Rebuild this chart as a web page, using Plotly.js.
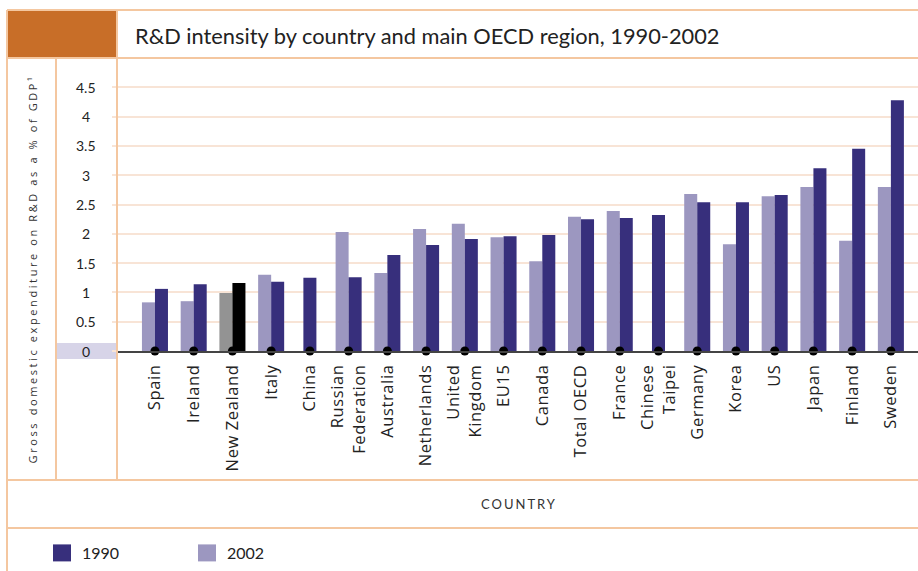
<!DOCTYPE html>
<html>
<head>
<meta charset="utf-8">
<script src="https://cdn.plot.ly/plotly-3.0.1.min.js"></script>
<style>
  html, body { margin: 0; padding: 0; background: #fff; }
  #chart { width: 918px; height: 571px; }
  .annotation.ytitle text { letter-spacing: 2.6px; }
  .annotation.xtitle text { letter-spacing: 2px; }
  .xtick text { letter-spacing: 0.6px; }
</style>
</head>
<body>
<div id="chart"></div>
<script>
// ---- data ----
const countries = ["Spain", "Ireland", "New Zealand", "Italy", "China", "Russian<br>Federation",
  "Australia", "Netherlands", "United<br>Kingdom", "EU15", "Canada", "Total OECD", "France",
  "Chinese<br>Taipei", "Germany", "Korea", "US", "Japan", "Finland", "Sweden"];
const values1990 = [1.06, 1.14, 1.16, 1.18, 1.25, 1.26, 1.64, 1.81, 1.91, 1.96, 1.98, 2.25, 2.27,
  2.32, 2.54, 2.54, 2.66, 3.12, 3.45, 4.28];
const values2002 = [0.83, 0.85, 0.99, 1.30, null, 2.03, 1.33, 2.08, 2.17, 1.94, 1.53, 2.29, 2.39,
  null, 2.68, 1.82, 2.64, 2.80, 1.88, 2.80];
const yTickValues = [0, 0.5, 1, 1.5, 2, 2.5, 3, 3.5, 4, 4.5];
const yTickLabels = ["0", "0.5", "1", "1.5", "2", "2.5", "3", "3.5", "4", "4.5"];
const highlight = "New Zealand";
const titleText = "R&D intensity by country and main OECD region, 1990-2002";
const yTitleText = "Gross domestic expenditure on R&D as a % of GDP\u00b9";
const xTitleText = "COUNTRY";

// ---- layout geometry (pixels of the 918x571 page) ----
const W = 918, H = 571;
const L = 117, R = 0, T = 58, B = 220;
const plotW = W - L - R, plotH = H - T - B;
const px = x => (x - L) / plotW;          // page x -> paper x
const py = y => (H - B - y) / plotH;      // page y -> paper y

const darkC = "#372f7c", lightC = "#9c97c0", hiLight = "#939393", hiDark = "#000000";
const border = "#f4c7a0", grid = "#f8e4d6";
const barW = 0.336;
const hiIdx = countries.indexOf(highlight);

const lightColors = countries.map((c, i) => i === hiIdx ? hiLight : lightC);
const darkColors = countries.map((c, i) => i === hiIdx ? hiDark : darkC);
const darkOffsets = values2002.map(v => v === null ? -barW / 2 : 0);

const traces = [
  { type: "bar", name: "2002", x: countries, y: values2002,
    marker: { color: lightColors, line: { width: 0 } },
    width: barW, offset: -barW, legendrank: 2, hoverinfo: "x+y" },
  { type: "bar", name: "1990", x: countries, y: values1990,
    marker: { color: darkColors, line: { width: 0 } },
    width: barW, offset: darkOffsets, legendrank: 1, hoverinfo: "x+y" },
  { type: "scatter", mode: "markers", x: countries, y: countries.map(() => 0),
    marker: { color: "#000", size: 9 }, cliponaxis: false, showlegend: false, hoverinfo: "skip" }
];

const line = (x0, y0, x1, y1) => ({ type: "line", xref: "paper", yref: "paper",
  x0: px(x0), y0: py(y0), x1: px(x1), y1: py(y1), line: { color: border, width: 2 }, layer: "above" });

const shapes = [
  { type: "rect", xref: "paper", yref: "paper", x0: px(7), x1: px(117), y0: py(10), y1: py(58),
    fillcolor: "#c86e28", line: { width: 0 }, layer: "below" },
  { type: "rect", xref: "paper", yref: "paper", x0: px(57), x1: px(117), y0: py(343), y1: py(359),
    fillcolor: "#d7d4e8", line: { width: 0 }, layer: "below" },
  line(7, 10, 918, 10),
  line(7, 58, 918, 58),
  line(7, 480, 918, 480),
  line(7, 528, 918, 528),
  line(7, 10, 7, 571),
  line(56, 58, 56, 480),
  line(117, 10, 117, 480)
];

const annotations = yTickValues.map((v, i) => ({
  xref: "paper", yref: "y", x: px(86), y: v, text: yTickLabels[i], showarrow: false,
  xanchor: "center", yanchor: "middle", font: { family: "Lato, sans-serif", size: 14, color: "#222" }
}));
annotations.push({ xref: "paper", yref: "paper", x: px(32), y: py(269), text: yTitleText,
  textangle: -90, showarrow: false, xanchor: "center", yanchor: "middle",
  font: { family: "Open Sans, sans-serif", size: 11, color: "#333" } });
annotations.push({ xref: "paper", yref: "paper", x: px(519), y: py(504), text: xTitleText,
  showarrow: false, xanchor: "center", yanchor: "middle",
  font: { family: "Liberation Sans Narrow, Lato, sans-serif", size: 13, color: "#333" } });

const layout = {
  width: W, height: H,
  margin: { l: L, r: R, t: T, b: B, pad: 0 },
  paper_bgcolor: "#fff", plot_bgcolor: "#fff",
  barmode: "overlay",
  title: { text: titleText, xref: "paper", x: px(135), xanchor: "left",
    yref: "container", y: 1 - 36 / H, yanchor: "middle",
    font: { family: "Lato, sans-serif", size: 21.8, color: "#222" } },
  xaxis: { range: [-0.98, 19.7], tickangle: -90, showgrid: false, zeroline: false,
    showline: true, linecolor: "#444", linewidth: 2,
    ticks: "outside", ticklen: 5, tickcolor: "rgba(0,0,0,0)",
    tickfont: { family: "'Open Sans', sans-serif", size: 16.5, color: "#222" }, fixedrange: true },
  yaxis: { range: [0, 5.0], tickvals: yTickValues, showticklabels: false, showgrid: true,
    gridcolor: grid, gridwidth: 2, zeroline: false, showline: false,
    ticks: "outside", ticklen: 4, tickwidth: 2, tickcolor: grid, fixedrange: true },
  legend: { orientation: "h", x: px(42), xanchor: "left", y: py(553), yanchor: "middle",
    entrywidth: 100, font: { family: "Lato, sans-serif", size: 16, color: "#222" },
    bgcolor: "rgba(0,0,0,0)", traceorder: "normal" },
  shapes: shapes,
  annotations: annotations,
  showlegend: true
};

Plotly.newPlot("chart", traces, layout, { displayModeBar: false, staticPlot: true }).then(() => {
  document.querySelectorAll(".annotation").forEach(g => {
    const t = g.textContent;
    if (t === yTitleText) g.classList.add("ytitle");
    if (t === xTitleText) g.classList.add("xtitle");
  });
  // enlarge the legend swatches to match the reference's square keys
  document.querySelectorAll(".legend .legendpoints path").forEach(p => {
    p.setAttribute("d", "M9,8.5H-9V-8.5H9Z");
  });
});
</script>
</body>
</html>
